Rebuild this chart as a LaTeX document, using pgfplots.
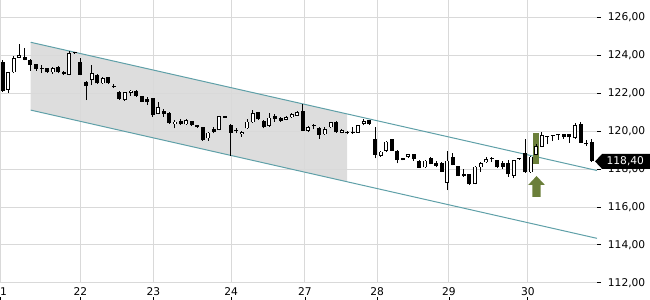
\documentclass[border=0pt]{standalone}
\usepackage{fontspec}
\setmainfont{DejaVu Sans}
\usepackage{pgfplots}
\usepackage{pgfplotstable}
\pgfplotsset{compat=1.18}
\definecolor{gridc}{RGB}{217,217,217}
\definecolor{shadec}{RGB}{221,221,221}
\definecolor{chan}{RGB}{95,160,168}
\definecolor{olivec}{RGB}{107,127,58}
\newcommand{\xl}[1]{\shortstack[c]{#1\\[-2.5pt]\rule{0.6pt}{2.5pt}}}

\pgfplotstableread{
i O H L C
0 123.65 123.75 122.05 122.10
1 122.16 123.10 121.99 123.09
2 123.09 123.96 123.05 123.83
3 123.86 124.56 123.84 124.00
4 123.91 124.35 123.72 123.74
5 123.74 123.78 123.16 123.47
6 123.51 123.53 123.16 123.25
7 123.33 123.47 123.04 123.27
8 123.30 123.32 123.07 123.09
9 123.09 123.35 123.02 123.30
10 123.35 123.42 123.05 123.09
11 123.12 123.14 122.95 122.98
12 122.95 124.20 122.93 124.09
13 124.11 124.12 124.08 124.09
14 123.62 123.86 122.93 122.95
15 122.60 122.65 121.63 122.38
16 122.68 123.47 122.42 123.04
17 122.95 122.98 122.49 122.51
18 122.51 122.83 122.49 122.77
19 122.82 122.85 122.49 122.51
20 122.37 122.50 122.28 122.30
21 122.07 122.10 121.65 121.67
22 121.63 122.07 121.60 122.04
23 122.01 122.15 121.86 122.12
24 122.10 122.15 121.80 121.84
25 121.84 121.86 121.52 121.54
26 121.67 121.77 121.37 121.51
27 121.72 121.75 120.75 120.84
28 120.89 121.51 120.87 121.25
29 121.07 121.16 120.75 120.89
30 120.96 120.98 120.38 120.40
31 120.35 120.58 120.14 120.49
32 120.53 120.63 120.33 120.35
33 120.35 120.63 120.33 120.56
34 120.53 120.55 120.28 120.30
35 120.32 120.34 120.18 120.20
36 120.20 120.22 119.49 119.52
37 119.61 119.95 119.49 119.91
38 120.09 120.19 119.88 119.96
39 120.05 120.81 120.03 120.79
40 120.73 120.74 120.70 120.71
41 120.32 120.35 118.68 119.91
42 120.03 120.17 119.88 119.98
43 119.82 120.00 119.70 119.96
44 120.14 120.61 120.12 120.49
45 120.46 121.10 120.44 120.96
46 120.98 121.00 120.58 120.61
47 120.54 120.56 120.14 120.19
48 120.28 120.93 120.22 120.70
49 120.81 120.89 120.49 120.61
50 120.70 120.72 120.49 120.54
51 120.58 120.77 120.56 120.75
52 120.72 120.93 120.70 120.88
53 120.81 121.07 120.79 120.98
54 121.05 121.42 120.00 120.02
55 120.02 120.24 119.95 120.19
56 120.28 120.37 120.09 120.24
57 120.17 120.20 119.58 119.79
58 119.82 120.23 119.80 120.09
59 120.19 120.50 120.15 120.46
60 120.49 120.52 119.90 119.93
61 119.91 120.08 119.88 120.05
62 119.97 119.99 119.82 119.87
63 119.96 120.19 119.86 119.88
64 119.91 120.34 119.89 120.32
65 120.37 120.63 120.30 120.54
66 120.58 120.60 120.32 120.35
67 119.56 120.23 118.56 118.74
68 118.68 118.95 118.65 118.91
69 118.96 119.50 118.90 119.44
70 119.56 119.58 118.94 118.96
71 118.96 118.98 118.30 118.47
72 118.56 118.58 118.45 118.47
73 118.62 118.81 118.60 118.79
74 118.79 118.81 118.44 118.51
75 118.44 118.46 118.05 118.07
76 118.09 118.46 118.07 118.44
77 118.56 118.65 118.24 118.26
78 118.33 118.42 118.10 118.17
79 118.33 118.35 117.84 117.86
80 117.28 118.96 116.89 118.44
81 118.62 118.83 118.19 118.21
82 118.16 118.18 117.61 117.63
83 117.74 117.98 117.60 117.63
84 117.74 117.76 117.17 117.19
85 117.21 118.14 117.19 118.12
86 118.09 118.38 117.86 118.30
87 118.35 118.62 118.33 118.51
88 118.54 118.65 118.38 118.52
89 118.47 118.49 118.07 118.09
90 118.30 118.42 117.98 118.12
91 118.33 118.47 117.60 117.72
92 117.65 118.49 117.51 118.47
93 118.52 118.53 118.50 118.51
94 118.83 119.56 117.80 117.82
95 117.82 118.70 117.80 118.65
96 118.74 119.30 118.72 119.21
97 119.17 119.96 119.15 119.79
98 119.71 119.72 119.30 119.70
99 119.75 119.76 119.47 119.74
100 119.78 119.79 119.53 119.77
101 119.82 119.84 119.58 119.70
102 119.82 119.84 119.39 119.67
103 119.62 120.40 119.60 120.32
104 120.37 120.49 119.37 119.39
105 119.39 119.53 119.21 119.30
106 119.44 119.56 118.38 118.40
}\candles

\begin{document}
\begin{tikzpicture}
\begin{axis}[
  set layers,
  scale only axis,
  width=447.75pt, height=212.25pt,
  xmin=-0.486, xmax=106.95,
  ymin=112, ymax=126.895,
  axis line style={draw=none},
  grid=major,
  major grid style={draw=gridc, line width=0.75pt},
  xtick={-0.48,14,27.1,41.1,54.4,67.4,80.3,94.5},
  xticklabels={\xl{21},\xl{22},\xl{23},\xl{24},\xl{27},\xl{28},\xl{29},\xl{30}},
  xticklabel style={anchor=north, inner sep=0pt, yshift=-0.5pt},
  x tick style={draw=none},
  ytick={112,114,...,126},
  yticklabel pos=right,
  y tick style={draw=black, line width=0.75pt},
  tick align=outside,
  major tick length=3pt,
  yticklabel style={anchor=west, inner sep=0pt, xshift=5pt,
    /pgf/number format/.cd, fixed, fixed zerofill, precision=2, use comma, assume math mode=true},
  ticklabel style={font=\fontsize{8}{9.6}\selectfont},
  clip=false,
]
\coordinate (SW) at (rel axis cs:0,0);
\coordinate (NE) at (rel axis cs:1,1);

% shaded channel part
\addplot[on layer=axis background, fill=shadec, draw=none] coordinates {(5.04,124.67) (61.96,120.90) (61.96,117.33) (5.04,121.10)};

% channel lines
\addplot[chan, line width=0.75pt] coordinates {(5.04,124.67) (106.95,117.92)};
\addplot[chan, line width=0.75pt] coordinates {(5.04,121.10) (106.95,114.35)};

% highlight and arrow
\addplot[fill=olivec, draw=none] coordinates {(95.48,119.88) (96.5,119.88) (96.5,118.25) (95.48,118.25)};
\addplot[fill=olivec, draw=none] coordinates {(96.07,117.63) (97.57,117.16) (96.82,117.16) (96.82,116.53) (95.32,116.53) (95.32,117.16) (94.57,117.16)};

% wicks
\addplot[draw=none, mark=none, error bars/.cd, y dir=plus, y explicit, error mark=none,
  error bar style={draw=black, line width=0.75pt}]
  table[x=i, y=L, y error plus expr=\thisrow{H}-\thisrow{L}] {\candles};
% bodies
\addplot[draw=none, mark=none, error bars/.cd, y dir=plus, y explicit, error mark=none,
  error bar style={draw=black, line width=3pt, line cap=butt}]
  table[x=i, y expr={min(\thisrow{O},\thisrow{C})}, y error plus expr={max(abs(\thisrow{C}-\thisrow{O}),0.06)}] {\candles};
% hollow interiors
\addplot[draw=none, mark=none, restrict expr to domain={\thisrow{C}-\thisrow{O}}{0.08:100},
  error bars/.cd, y dir=plus, y explicit, error mark=none,
  error bar style={draw=white, line width=1.5pt, line cap=butt}]
  table[x=i, y expr={\thisrow{O}+0.04}, y error plus expr={\thisrow{C}-\thisrow{O}-0.08}] {\candles};

% last price box
\fill[black] (axis cs:106.6,118.4) -- ++(5.25pt,5.6pt) -- ++(36pt,0pt) -- ++(0pt,-11.2pt) -- ++(-36pt,0pt) -- cycle;
\node[anchor=west, text=white, font=\fontsize{8}{9.6}\selectfont, inner sep=0pt] at ([xshift=8.5pt]axis cs:106.6,118.4) {118,40};
\end{axis}
\pgfresetboundingbox
\path[use as bounding box] ([yshift=-12.75pt]SW) rectangle ([xshift=39.75pt]NE);
\end{tikzpicture}
\end{document}
